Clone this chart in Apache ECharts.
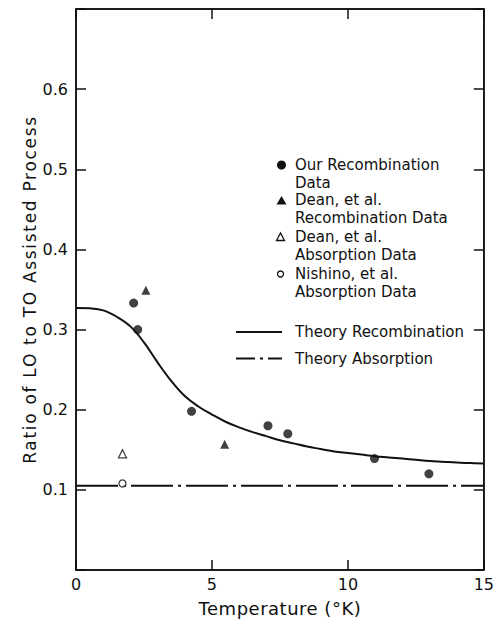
<!DOCTYPE html>
<html>
<head>
<meta charset="utf-8">
<script src="https://cdn.jsdelivr.net/npm/echarts@6/dist/echarts.min.js"></script>
<style>
html,body{margin:0;padding:0;background:#fff;}
#c{width:497px;height:622px;}
</style>
</head>
<body>
<div id="c"></div>
<script>
// ---- data ----
var ourT = [2.12, 2.27, 4.25, 7.06, 7.79, 10.98, 12.98];
var ourR = [0.333, 0.300, 0.198, 0.180, 0.170, 0.139, 0.120];
var deanRecT = [2.57, 5.47];
var deanRecR = [0.349, 0.157];
var deanAbsT = [1.71];
var deanAbsR = [0.145];
var nishT = [1.71];
var nishR = [0.108];
var theoryT = [0, 0.5, 1, 1.5, 2, 2.5, 3, 3.5, 4, 4.5, 5, 5.5, 6, 6.5, 7, 7.5, 8, 8.5, 9, 9.5, 10, 10.5, 11, 11.5, 12, 12.5, 13, 13.5, 14, 14.5, 15];
var theoryR = [0.327, 0.3265, 0.324, 0.316, 0.304, 0.284, 0.259, 0.236, 0.217, 0.204, 0.194, 0.185, 0.178, 0.172, 0.167, 0.162, 0.158, 0.154, 0.151, 0.148, 0.146, 0.144, 0.142, 0.1405, 0.139, 0.1375, 0.136, 0.135, 0.134, 0.1335, 0.133];
var absT = [0, 15];
var absR = [0.105, 0.105];
var xTicks = [0, 5, 10, 15];
var yTickLabels = ['0.1', '0.2', '0.3', '0.4', '0.5', '0.6'];
var xName = 'Temperature (°K)';
var yName = 'Ratio of LO to TO Assisted Process';
var legendNames = ['Our Recombination\nData', 'Dean, et al.\nRecombination Data', 'Dean, et al.\nAbsorption Data', 'Nishino, et al.\nAbsorption Data', 'Theory Recombination', 'Theory Absorption'];

function zip(a, b) { return a.map(function (v, i) { return [v, b[i]]; }); }

var FONT = '"DejaVu Sans", sans-serif';
var INK = '#111';
var chart = echarts.init(document.getElementById('c'), null, { renderer: 'svg' });

// legend built with graphic elements
var g = [];
var tx = 295;
function txt(s, y) {
  g.push({ type: 'text', style: { text: s, x: tx, y: y, font: '15px ' + FONT, fill: INK, verticalAlign: 'middle' } });
}
var lineYs = [165, 182.8, 200.4, 218.4, 236.8, 255.2, 273.6, 292];
legendNames.slice(0, 4).forEach(function (n, i) {
  var parts = n.split('\n');
  txt(parts[0], lineYs[2 * i]);
  txt(parts[1], lineYs[2 * i + 1]);
});
txt(legendNames[4], 332);
txt(legendNames[5], 358.5);
g.push({ type: 'circle', shape: { cx: 281.5, cy: 165, r: 4.5 }, style: { fill: INK } });
g.push({ type: 'polygon', shape: { points: [[281.5, 196], [276.5, 204.5], [286.5, 204.5]] }, style: { fill: INK } });
g.push({ type: 'polygon', shape: { points: [[280.5, 233], [276.5, 240.5], [284.5, 240.5]] }, style: { fill: '#fff', stroke: INK, lineWidth: 1.3 } });
g.push({ type: 'circle', shape: { cx: 280.5, cy: 274, r: 3 }, style: { fill: '#fff', stroke: INK, lineWidth: 1.3 } });
g.push({ type: 'line', shape: { x1: 236, y1: 332, x2: 282, y2: 332 }, style: { stroke: INK, lineWidth: 2 } });
g.push({ type: 'line', shape: { x1: 236, y1: 358.5, x2: 282, y2: 358.5 }, style: { stroke: INK, lineWidth: 2, lineDash: [19, 5, 3, 5] } });

var axisLineStyle = { show: true, onZero: false, lineStyle: { color: INK, width: 1.5 } };
var tickStyle = { show: true, inside: true, length: 10, lineStyle: { color: INK, width: 1.5 } };

var option = {
  backgroundColor: '#fff',
  animation: false,
  grid: { left: 76, right: 9, top: 9, bottom: 49, containLabel: false, show: true, borderColor: INK, borderWidth: 1.5, backgroundColor: 'transparent' },
  xAxis: [{
    type: 'value', position: 'bottom', min: 0, max: 15, interval: 5,
    name: xName, nameLocation: 'middle', nameGap: 29,
    nameTextStyle: { fontFamily: FONT, fontSize: 18, color: INK },
    axisLine: axisLineStyle,
    axisTick: tickStyle,
    axisLabel: { margin: 6, fontFamily: FONT, fontSize: 16, color: INK,
      formatter: function (v) { return xTicks.indexOf(v) >= 0 ? String(v) : ''; } },
    splitLine: { show: false }
  }, {
    type: 'value', position: 'top', min: 0, max: 15, interval: 5,
    axisLine: axisLineStyle,
    axisTick: tickStyle,
    axisLabel: { show: false }, splitLine: { show: false }
  }],
  yAxis: [{
    type: 'value', position: 'left', min: 0, max: 0.7, interval: 0.1,
    name: yName, nameLocation: 'middle', nameGap: 38, nameMoveOverlap: false,
    nameTextStyle: { fontFamily: FONT, fontSize: 17, color: INK },
    axisLine: axisLineStyle,
    axisTick: tickStyle,
    axisLabel: { margin: 8, fontFamily: FONT, fontSize: 16, color: INK,
      formatter: function (v) { var s = v.toFixed(1); return yTickLabels.indexOf(s) >= 0 ? s : ''; } },
    splitLine: { show: false }
  }, {
    type: 'value', position: 'right', min: 0, max: 0.7, interval: 0.1,
    axisLine: axisLineStyle,
    axisTick: tickStyle,
    axisLabel: { show: false }, splitLine: { show: false }
  }],
  graphic: g,
  series: [{
    name: legendNames[4], type: 'line', data: zip(theoryT, theoryR), smooth: 0.4,
    showSymbol: false, lineStyle: { color: INK, width: 2 }, z: 2
  }, {
    name: legendNames[5], type: 'line', data: zip(absT, absR),
    showSymbol: false, lineStyle: { color: INK, width: 2, type: [42, 5, 3, 5] }, z: 2
  }, {
    name: legendNames[0], type: 'scatter', data: zip(ourT, ourR), symbol: 'circle', symbolSize: 9,
    itemStyle: { color: INK }, z: 3
  }, {
    name: legendNames[1], type: 'scatter', data: zip(deanRecT, deanRecR), symbol: 'triangle', symbolSize: 9,
    itemStyle: { color: INK }, z: 3
  }, {
    name: legendNames[2], type: 'scatter', data: zip(deanAbsT, deanAbsR), symbol: 'triangle', symbolSize: 8,
    itemStyle: { color: '#fff', borderColor: INK, borderWidth: 1.3 }, z: 3
  }, {
    name: legendNames[3], type: 'scatter', data: zip(nishT, nishR), symbol: 'circle', symbolSize: 7,
    itemStyle: { color: '#fff', borderColor: INK, borderWidth: 1.3 }, z: 3
  }]
};
chart.setOption(option);

// widen the letter spacing of the axis titles, as in the original typesetting
function spaceTitles() {
  var texts = document.querySelectorAll('#c svg text');
  for (var i = 0; i < texts.length; i++) {
    var t = texts[i];
    if (t.textContent === xName) t.style.letterSpacing = '0.5px';
    else if (t.textContent === yName) t.style.letterSpacing = '1.7px';
  }
}
spaceTitles();
chart.on('finished', spaceTitles);
</script>
</body>
</html>
